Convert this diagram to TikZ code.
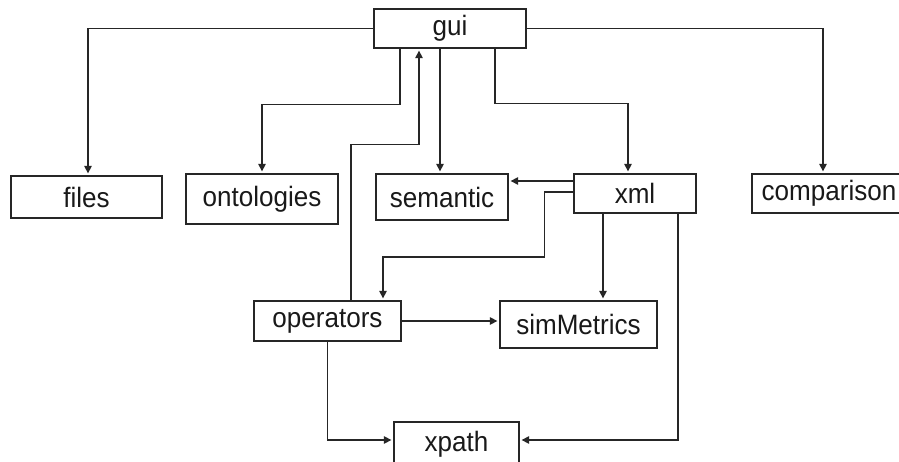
\documentclass[tikz,border=0pt]{standalone}
\usepackage{fontspec}
\setmainfont{Liberation Sans}[FakeStretch=0.93]
\usetikzlibrary{arrows.meta}
\begin{document}
\begin{tikzpicture}[x=1pt,y=-1pt,
  box/.style={draw=black!85,line width=1.3pt,fill=white,inner sep=0pt,
    font=\fontsize{28}{28}\selectfont,text=black!90},
  arr/.style={draw=black!85,line width=1.3pt,
    -{Triangle[length=7.5pt,width=7.5pt]},shorten >=2pt}]
\useasboundingbox[fill=white] (0,0) rectangle (899,462);
\node[box,minimum width=152pt,minimum height=39pt] (gui) at (450,28.5) {gui};
\node[box,minimum width=151pt,minimum height=42pt] (files) at (86.5,197) {files};
\node[box,minimum width=152pt,minimum height=50pt] (ontologies) at (262,199) {ontologies};
\node[box,minimum width=132pt,minimum height=46pt] (semantic) at (442,197) {semantic};
\node[box,minimum width=122pt,minimum height=39pt] (xml) at (635,193.5) {xml};
\node[box,minimum width=154pt,minimum height=39pt] (comparison) at (829,193.5) {comparison};
\node[box,minimum width=147pt,minimum height=40pt] (operators) at (327.5,321) {operators};
\node[box,minimum width=157pt,minimum height=47pt] (simMetrics) at (578.5,324.5) {simMetrics};
\node[box,minimum width=125pt,minimum height=44pt] (xpath) at (456.5,444) {xpath};
% gui connectors
\draw[arr] (gui.west) -| ([xshift=1.5pt]files.north);
\draw[arr] (gui.east) -| ([xshift=-6pt]comparison.north);
\draw[arr] ([xshift=-50pt]gui.south) -- ++(0,56) -| (ontologies.north);
\draw[arr] ([xshift=23.5pt]operators.north) -- ++(0,-156) -| ([xshift=-31pt]gui.south);
\draw[arr] ([xshift=-10pt]gui.south) -- ([xshift=-10pt]gui.south |- semantic.north);
\draw[arr] ([xshift=45pt]gui.south) -- ++(0,55) -| ([xshift=-7pt]xml.north);
% xml connectors
\draw[arr] ([yshift=12.5pt]xml.west) -- ([yshift=12.5pt]xml.west -| semantic.east);
\draw[arr] ([yshift=1.5pt]xml.west) -- ++(-29,0) -- ++(0,65) -| ([xshift=55.5pt]operators.north);
\draw[arr] ([xshift=-32pt]xml.south) -- ([xshift=-32pt]xml.south |- simMetrics.north);
\draw[arr] ([xshift=43pt]xml.south) |- ([yshift=4pt]xpath.east);
% operators connectors
\draw[arr] (operators.east) -- (operators.east -| simMetrics.west);
\draw[arr] (operators.south) |- ([yshift=4pt]xpath.west);
\end{tikzpicture}
\end{document}
